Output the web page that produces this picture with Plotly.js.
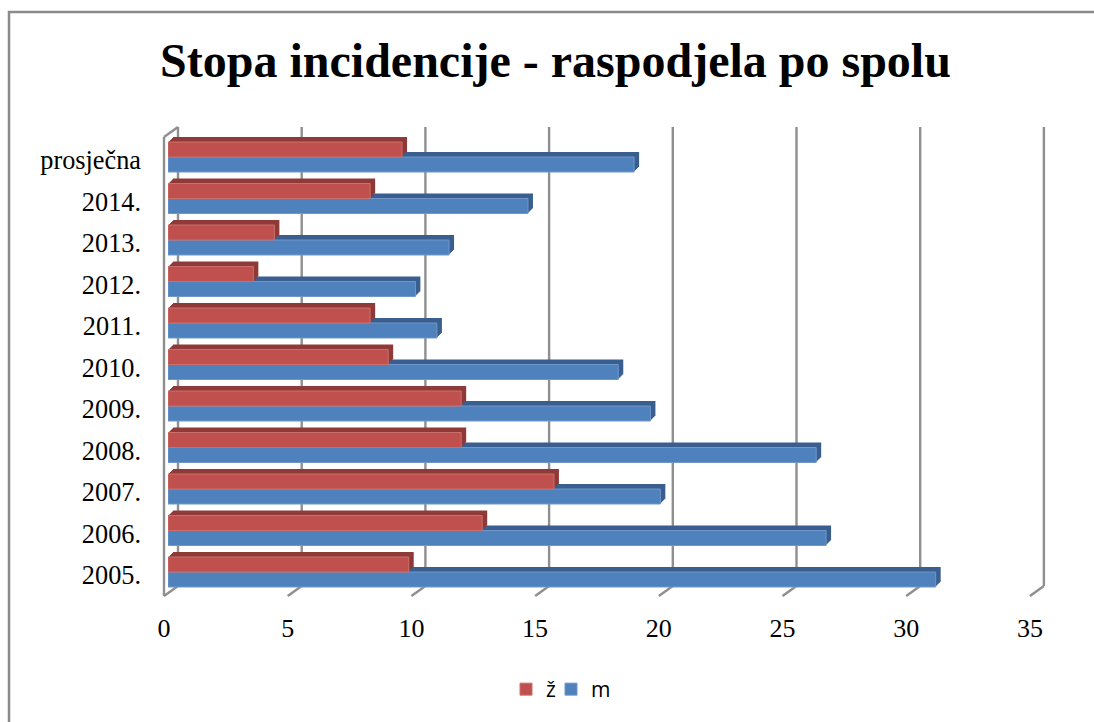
<!DOCTYPE html>
<html><head><meta charset="utf-8">
<script src="https://cdn.plot.ly/plotly-3.0.1.min.js"></script>
<style>html,body{margin:0;padding:0;background:#fff}</style></head>
<body><div id="chart" style="width:1094px;height:722px"></div>
<script>
const categories = ['2005.','2006.','2007.','2008.','2009.','2010.','2011.','2012.','2013.','2014.','prosječna'];
const valuesZ = [9.73,12.7,15.6,11.85,11.85,8.9,8.17,3.45,4.3,8.17,9.46];
const valuesM = [31.03,26.6,19.9,26.2,19.5,18.2,10.87,10,11.36,14.55,18.84];
const tickValues = [0,5,10,15,20,25,30,35];

const W=1094,H=722;
const fx=p=>p/W, fy=p=>1-p/H;
const SERIF='"Liberation Serif","Times New Roman",serif';
const GRID='#8f8f8f';
const unit=123.7/5;           // pixels per value unit
const RED='#c0504d',RED_D='#8f3a38',BLUE='#4f81bd',BLUE_D='#3a5f8f';
const BAR_X0=168, BAR_YTOP=136.25, BAR_YBOT=592.75;
const legendBase={orientation:'h',y:fy(669),xanchor:'left',yanchor:'top',
  font:{family:'"Open Sans",sans-serif',size:21,color:'#000'},itemwidth:30,bgcolor:'rgba(0,0,0,0)'};

const layout={
  width:W,height:H,autosize:false,
  margin:{l:0,r:0,t:0,b:0},
  paper_bgcolor:'#fff',plot_bgcolor:'rgba(0,0,0,0)',
  barmode:'group',bargap:0.277,bargroupgap:0,
  showlegend:true,
  legend:{...legendBase,x:fx(506)},
  legend2:{...legendBase,x:fx(551)},
  title:{text:'<b>Stopa incidencije - raspodjela po spolu</b>',x:fx(555.5),xanchor:'center',y:fy(60.5),yanchor:'middle',
    font:{family:SERIF,size:48,color:'#000'}},
  // back wall: the position scale for the gridlines (range padded so edge lines are not clipped)
  xaxis:{domain:[fx(178-unit),fx(178+36*unit)],range:[-1,36],showgrid:false,tickvals:tickValues,
    showticklabels:false,ticks:'',zeroline:false,showline:false,anchor:'y',fixedrange:true},
  yaxis:{domain:[fy(586),fy(127)],range:[0,1],showgrid:false,showticklabels:false,ticks:'',zeroline:false,showline:false,anchor:'x',fixedrange:true},
  shapes:[
    {type:'rect',xref:'paper',yref:'paper',x0:fx(9),x1:fx(1110),y0:fy(12),y1:fy(740),line:{color:'#8a8a8a',width:2.5},layer:'below'},
    {type:'line',xref:'paper',yref:'paper',x0:fx(164),x1:fx(164),y0:fy(137),y1:fy(596),line:{color:GRID,width:2.4},layer:'below'},
    {type:'line',xref:'paper',yref:'paper',x0:fx(164),x1:fx(178),y0:fy(137),y1:fy(127),line:{color:GRID,width:2.4},layer:'below'},
    ...tickValues.map(k=>({type:'line',xref:'x',yref:'paper',x0:k,x1:k,y0:fy(586),y1:fy(127),line:{color:GRID,width:2.4},layer:'below'})),
    ...tickValues.map(k=>({type:'line',xref:'x',yref:'paper',xsizemode:'pixel',xanchor:k,x0:-14,x1:0,y0:fy(596),y1:fy(586),line:{color:GRID,width:2.4},layer:'below'}))
  ]
};

const traces=[];
let n=2;
function addBars(dx,dy,colM,colZ,edge,legend){
  const xa='xaxis'+n, ya='yaxis'+n, xr='x'+n, yr='y'+n;
  layout[xa]={domain:[fx(BAR_X0+dx),fx(BAR_X0+dx+33*unit)],range:[0,33],visible:false,anchor:yr,fixedrange:true};
  layout[ya]={domain:[fy(BAR_YBOT-dy),fy(BAR_YTOP-dy)],type:'category',categoryorder:'array',categoryarray:categories,range:[-0.5,10.5],visible:false,anchor:xr,fixedrange:true};
  traces.push({type:'bar',orientation:'h',name:'m',legend:'legend2',y:categories,x:valuesM,xaxis:xr,yaxis:yr,showlegend:legend,hoverinfo:'skip',
    marker:{color:colM,line:{color:edge?'#6f97c9':colM,width:edge?1:0}}});
  traces.push({type:'bar',orientation:'h',name:'ž',legend:'legend',y:categories,x:valuesZ,xaxis:xr,yaxis:yr,showlegend:legend,hoverinfo:'skip',
    marker:{color:colZ,line:{color:edge?'#c9706c':colZ,width:edge?1:0}}});
  n++;
}
[5,4,3,2,1].forEach(d=>addBars(d,d,BLUE_D,RED_D,false,false));
addBars(0,0,BLUE,RED,true,true);

// axes that only carry the printed labels, in the front plane
layout['xaxis'+n]={domain:[fx(164),fx(164+35*unit)],range:[0,35],tickvals:tickValues,ticktext:tickValues.map(String),
  ticks:'outside',ticklen:9,tickcolor:'rgba(0,0,0,0)',showgrid:false,zeroline:false,showline:false,anchor:'y'+n,
  tickfont:{family:SERIF,size:26,color:'#000'},fixedrange:true};
layout['yaxis'+n]={domain:[fy(596),fy(139.25)],type:'category',categoryorder:'array',categoryarray:categories,range:[-0.5,10.5],
  showgrid:false,zeroline:false,showline:false,anchor:'free',position:fx(141),side:'left',ticks:'',
  tickfont:{family:SERIF,size:26.3,color:'#000'},fixedrange:true};
traces.push({type:'bar',orientation:'h',y:categories,x:categories.map(()=>null),xaxis:'x'+n,yaxis:'y'+n,showlegend:false,hoverinfo:'skip'});
traces.unshift({type:'scatter',x:[],y:[],xaxis:'x',yaxis:'y',showlegend:false,hoverinfo:'skip'});

Plotly.newPlot('chart',traces,layout,{staticPlot:true,displayModeBar:false});
</script></body></html>
